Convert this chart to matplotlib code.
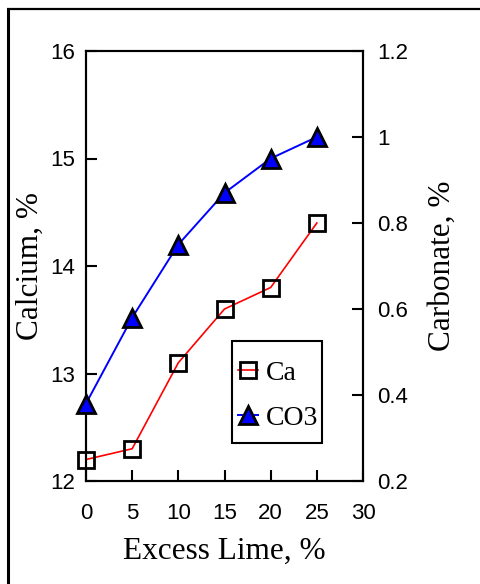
import matplotlib
matplotlib.use("Agg")
import matplotlib.pyplot as plt
from matplotlib.lines import Line2D
from matplotlib.patches import Rectangle

# Data
excess_lime = [0, 5, 10, 15, 20, 25]
calcium = [12.2, 12.3, 13.1, 13.6, 13.8, 14.4]
carbonate = [0.38, 0.58, 0.75, 0.87, 0.95, 1.0]

x_ticks = [0, 5, 10, 15, 20, 25, 30]
ca_ticks = [12, 13, 14, 15, 16]
co3_ticks = [0.2, 0.4, 0.6, 0.8, 1.0, 1.2]
co3_tick_labels = ["0.2", "0.4", "0.6", "0.8", "1", "1.2"]

SANS = "Liberation Sans"
SERIF = "Liberation Serif"

fig = plt.figure(figsize=(4.8, 5.84), dpi=100)

# Frame lines along the left and top edge of the figure
fig.add_artist(Line2D([8 / 480, 8 / 480], [0, 1 - 8 / 584], transform=fig.transFigure,
                      color="black", lw=2.2, solid_capstyle="butt"))
fig.add_artist(Line2D([6.5 / 480, 1], [1 - 8.5 / 584, 1 - 8.5 / 584], transform=fig.transFigure,
                      color="black", lw=1.6, solid_capstyle="butt"))

ax = fig.add_axes([86 / 480, 103 / 584, 277 / 480, 430 / 584])
ax2 = ax.twinx()

for a in (ax, ax2):
    for s in a.spines.values():
        s.set_linewidth(1.5)

# Calcium (left axis)
ax.plot(excess_lime, calcium, color="red", lw=1.2, marker="s", ms=12,
        mfc="none", mec="black", mew=2.0, clip_on=False, zorder=3)
ax.set_xlim(0, 30)
ax.set_ylim(12, 16)
ax.set_xticks(x_ticks)
ax.set_yticks(ca_ticks)
ax.tick_params(axis="both", direction="in", length=8, width=1.5, labelsize=16)
ax.tick_params(axis="x", pad=16)
ax.tick_params(axis="y", pad=8)
for lab in ax.get_xticklabels() + ax.get_yticklabels():
    lab.set_family(SANS)
ax.set_xlabel("Excess Lime, %", family=SERIF, fontsize=22.5, labelpad=9)
ax.set_ylabel("Calcium, %", family=SERIF, fontsize=22.5, labelpad=4)

# Carbonate (right axis)
ax2.plot(excess_lime, carbonate, color="blue", lw=1.4, marker="^", ms=13.5,
         mfc="blue", mec="black", mew=2.0, clip_on=False, zorder=3)
ax2.set_ylim(0.2, 1.2)
ax2.set_yticks(co3_ticks)
ax2.set_yticklabels(co3_tick_labels)
ax2.tick_params(axis="y", direction="in", length=8, width=1.5, labelsize=16, pad=10)
for lab in ax2.get_yticklabels():
    lab.set_family(SANS)
ax2.set_ylabel("Carbonate, %", family=SERIF, fontsize=22.5, labelpad=14)

# Legend with a hand-drawn frame
ax2.add_patch(Rectangle((0.527, 0.088), 0.325, 0.2376, transform=ax2.transAxes,
                        fill=True, facecolor="white", edgecolor="black", lw=1.5,
                        zorder=5, clip_on=False))
handles = [
    Line2D([], [], color="red", lw=1.2, marker="s", ms=12, mfc="none", mec="black", mew=2.0),
    Line2D([], [], color="blue", lw=1.4, marker="^", ms=13.5, mfc="blue", mec="black", mew=2.0),
]
leg = ax2.legend(handles, ["Ca", "CO3"], loc="center left",
                 bbox_to_anchor=(0.53, 0.198), frameon=False,
                 prop={"family": SERIF, "size": 20}, handlelength=0.7,
                 handletextpad=0.3, labelspacing=0.7, borderpad=0.2,
                 borderaxespad=0.0, numpoints=1)
leg.set_zorder(6)

fig.savefig("out.png", dpi=100)
